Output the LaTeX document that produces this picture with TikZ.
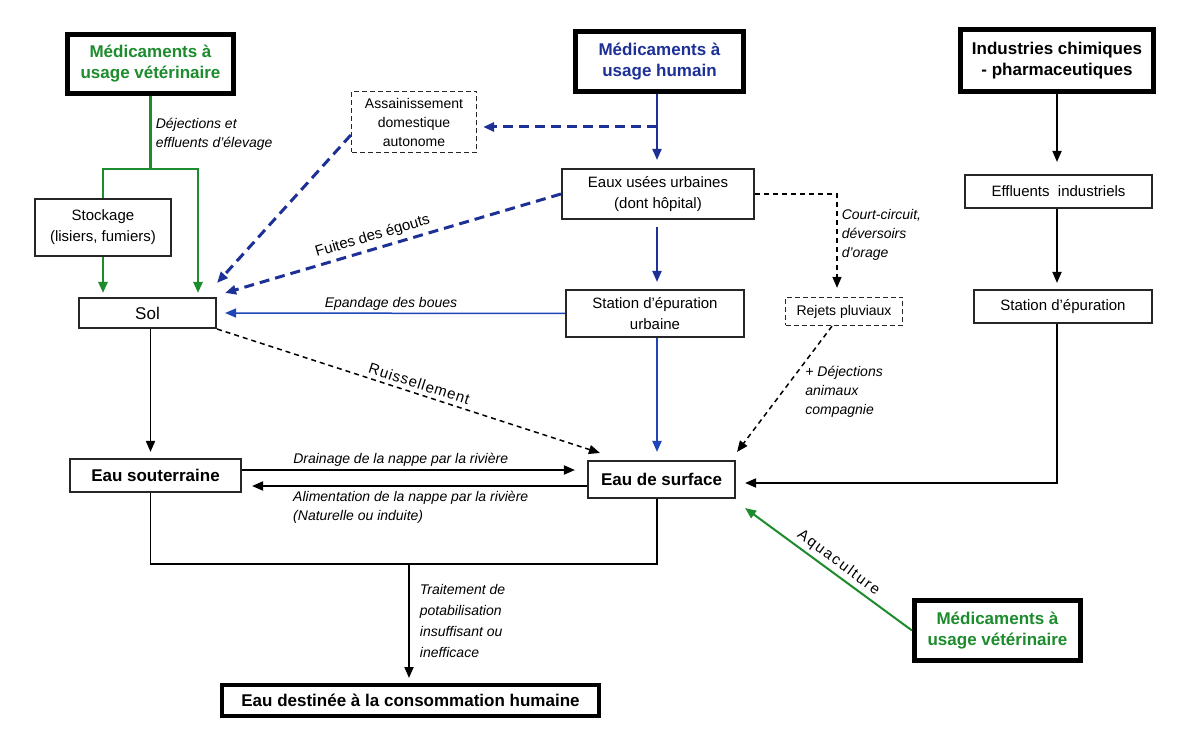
\documentclass[tikz,border=0pt]{standalone}
\usepackage{fontspec}
\setmainfont{Liberation Sans}
\usetikzlibrary{arrows.meta,calc}
\definecolor{vgreen}{RGB}{28,140,45}
\definecolor{hblue}{RGB}{28,48,150}
\definecolor{lblue}{RGB}{30,70,185}
\begin{document}
\begin{tikzpicture}[x=1pt,y=-1pt,
 box/.style={draw=black!85, line width=1.6pt, align=center, inner sep=0pt, font=\fontsize{15}{21}\selectfont},
 thickbox/.style={draw=black, line width=5pt, align=center, inner sep=0pt, font=\bfseries\fontsize{17}{21}\selectfont},
 dbox/.style={box, dash pattern=on 5pt off 3pt, line width=1.3pt, font=\fontsize{14}{19}\selectfont},
 bbox/.style={box, font=\bfseries\fontsize{17}{21}\selectfont},
 arr/.style={-{Triangle[length=11pt,width=9pt]}},
 lab/.style={font=\itshape\fontsize{14}{19}\selectfont, align=left, inner sep=2pt},
 slab/.style={font=\fontsize{15}{17}\selectfont, inner sep=2pt},
 gline/.style={draw=vgreen, line width=2.5pt},
 bline/.style={draw=hblue, line width=2pt},
 bdash/.style={draw=hblue, line width=3pt, dash pattern=on 10pt off 6pt},
 lbline/.style={draw=lblue, line width=1.5pt},
 kline/.style={draw=black, line width=1.8pt},
 kdash/.style={draw=black, line width=1.5pt, dash pattern=on 5pt off 4pt}
]
\fill[white] (0,0) rectangle (1200,751);
\useasboundingbox (0,0) rectangle (1200,751);

% nodes
\node[thickbox, text=vgreen, minimum width=166, minimum height=59] (vet1) at (150.5,64) {Médicaments à\\usage vétérinaire};
\node[thickbox, text=hblue, minimum width=168, minimum height=60] (hum) at (659.5,61.5) {Médicaments à\\usage humain};
\node[thickbox, minimum width=193, minimum height=62] (ind) at (1057,60.5) {Industries chimiques\\- pharmaceutiques};
\node[dbox, minimum width=125, minimum height=61] (assain) at (414,122) {Assainissement\\domestique\\autonome};
\node[box, minimum width=192.5, minimum height=50.5] (eaux) at (658,194) {Eaux usées urbaines\\(dont hôpital)};
\node[box, minimum width=178.5, minimum height=47.5] (stepu) at (655,313.5) {Station d’épuration\\urbaine};
\node[dbox, minimum width=117, minimum height=28] (rejets) at (844,311.5) {Rejets pluviaux};
\node[box, minimum width=187.5, minimum height=33.5] (effl) at (1058.5,191.5) {Effluents~~industriels};
\node[box, minimum width=178.5, minimum height=33.5] (stind) at (1063,306.5) {Station d’épuration};
\node[box, minimum width=136.5, minimum height=57.5] (stock) at (103,227.5) {Stockage\\(lisiers, fumiers)};
\node[box, font=\fontsize{17}{21}\selectfont, minimum width=137.5, minimum height=30.5] (sol) at (147.5,313) {Sol};
\node[bbox, minimum width=171.5, minimum height=33.5] (esout) at (155.5,475.5) {Eau souterraine};
\node[bbox, minimum width=147.5, minimum height=37.5] (esurf) at (661.5,479.5) {Eau de surface};
\node[thickbox, text=vgreen, minimum width=166, minimum height=60] (vet2) at (997.5,630.5) {Médicaments à\\usage vétérinaire};
\node[thickbox, line width=4pt, minimum width=377, minimum height=31] (edch) at (410.5,700.5) {Eau destinée à la consommation humaine};

% coordinates
\coordinate (gj) at (150.5,169);
\coordinate (cx) at (657,0);
\coordinate (hb) at (657,127);
\coordinate (ix) at (1057,0);
\coordinate (jb) at (0,564);
\coordinate (jn) at (409,564);

% green
\draw[gline] (vet1.south) -- (gj) node[lab, pos=0.53, anchor=west, xshift=2pt, text=black] {Déjections et\\effluents d’élevage};
\draw[gline, arr, shorten >=4pt] (stock.north) |- (gj) -| ([xshift=50.5pt]sol.north);
\draw[gline, arr, shorten >=4pt] (stock.south) -- (stock.south |- sol.north);
\draw[gline, line width=2pt, arr] (vet2.west) -- ([shift={(9pt,-9pt)}]esurf.south east)
  node[slab, pos=0.48, above=1pt, sloped, text=black, font=\fontsize{15}{17}\selectfont\addfontfeature{LetterSpace=12}] {Aquaculture};

% blue
\draw[bline, arr, shorten >=8pt] (hum.south -| cx) -- (eaux.north -| cx);
\draw[bdash, arr, shorten >=6pt] (hb) -- (assain.east |- hb);
\draw[bdash, arr] ([yshift=-13pt]assain.west) -- ([yshift=14pt]sol.north east);
\draw[bdash, arr] (eaux.west) -- ([shift={(8pt,4pt)}]sol.north east)
  node[slab, pos=0.55, above=2pt, sloped, text=black] {Fuites des égouts};
\draw[bline, arr, shorten <=7pt, shorten >=7pt] (eaux.south -| cx) -- (stepu.north -| cx);
\draw[lbline, arr, shorten >=8pt] (stepu.west) -- (sol.east) node[lab, midway, above, text=black] {Epandage des boues};
\draw[lbline, line width=2pt, arr, shorten >=8pt] (stepu.south -| cx) -- (esurf.north -| cx);

% black
\draw[kdash, arr] (sol.south east) -- ([shift={(13pt,7pt)}]esurf.north west)
  node[slab, pos=0.52, above=2pt, sloped, font=\fontsize{15}{17}\selectfont\addfontfeature{LetterSpace=6}] {Ruissellement};
\draw[kdash, arr, shorten >=9pt] (eaux.east) -| ([xshift=-7pt]rejets.north)
  node[lab, pos=0.7, anchor=west, xshift=2pt] {Court-circuit,\\déversoirs\\d’orage};
\draw[kdash, arr] ([xshift=-12pt]rejets.south) -- ([shift={(1pt,8pt)}]esurf.north east)
  node[lab, pos=0.52, anchor=west, xshift=20pt] {+ Déjections\\animaux\\compagnie};
\draw[kline, arr, shorten >=12pt] (ind.south -| ix) -- (effl.north -| ix);
\draw[kline, arr, shorten >=6pt] (effl.south -| ix) -- (stind.north -| ix);
\draw[kline, arr, shorten >=9pt] (stind.south -| ix) |- ([yshift=-3.5pt]esurf.east);
\draw[kline, arr, shorten >=6pt] (sol.south -| gj) -- (esout.north -| gj);
\draw[kline, arr, shorten >=12pt] ([yshift=5.5pt]esout.east) -- ([yshift=5.5pt]esout.east -| esurf.west)
  node[lab, pos=0.46, above=1pt] {Drainage de la nappe par la rivière};
\draw[kline, arr, shorten >=10pt] ([yshift=-6.5pt]esurf.west) -- ([yshift=-6.5pt]esurf.west -| esout.east)
  node[lab, pos=0.86, anchor=north west, yshift=-2pt] {Alimentation de la nappe par la rivière\\(Naturelle ou induite)};
\draw[kline] (esout.south -| gj) -- (gj |- jb) -| (esurf.south -| cx);
\draw[kline, arr, shorten >=5pt] (jn) -- (jn |- edch.north)
  node[lab, pos=0.48, anchor=west, xshift=8pt, font=\itshape\fontsize{14}{21}\selectfont] {Traitement de\\potabilisation\\insuffisant ou\\inefficace};
\end{tikzpicture}
\end{document}
